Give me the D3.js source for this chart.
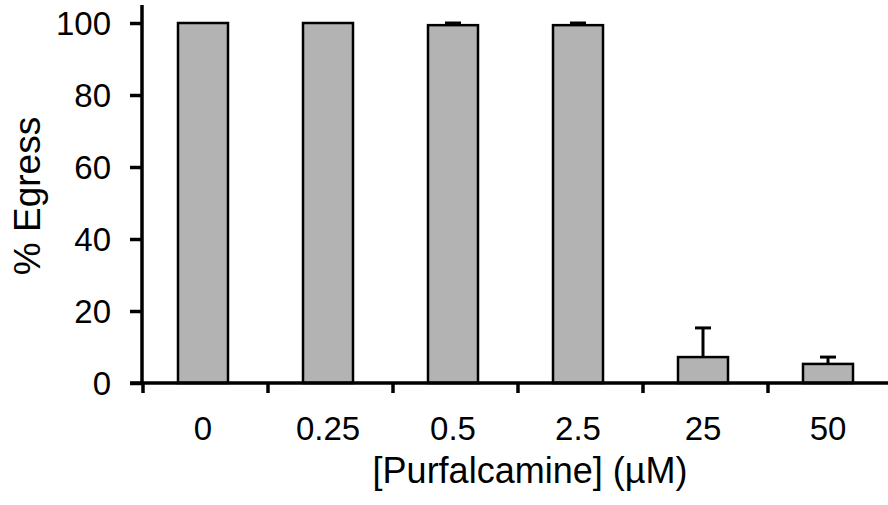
<!DOCTYPE html>
<html><head><meta charset="utf-8">
<script src="https://cdn.jsdelivr.net/npm/d3@7"></script>
<style>body{margin:0;background:#fff}svg{display:block}text{font-family:"Liberation Sans",Arial,sans-serif;fill:#000}</style>
</head><body><svg id="c" width="888" height="505"></svg>
<script>
const categories = ["0", "0.25", "0.5", "2.5", "25", "50"];
const means = [100, 100, 99.4, 99.4, 7.2, 5.3];
const errors = [0, 0, 0.6, 0.6, 8.1, 1.9];
const yTicks = [0, 20, 40, 60, 80, 100];

const svg = d3.select("#c");
const x0 = 143, step = 125;
const x = d3.scaleBand().domain(categories).range([x0 - 2.5, x0 - 2.5 + step * categories.length]).paddingInner(0.6).paddingOuter(0.3);
const y = d3.scaleLinear().domain([0, 100]).range([383, 23]);

// bars
svg.selectAll("rect.bar").data(categories).enter().append("rect")
  .attr("x", d => x(d)).attr("width", x.bandwidth())
  .attr("y", (d, i) => y(means[i])).attr("height", (d, i) => y(0) - y(means[i]))
  .attr("fill", "#b3b3b3").attr("stroke", "#000").attr("stroke-width", 2.5);

// error bars (upward only)
const eg = svg.append("g").attr("stroke", "#000").attr("stroke-width", 3);
categories.forEach((c, i) => {
  if (errors[i] <= 0) return;
  const cx = x(c) + x.bandwidth() / 2;
  eg.append("line").attr("x1", cx).attr("x2", cx).attr("y1", y(means[i])).attr("y2", y(means[i] + errors[i]));
  eg.append("line").attr("x1", cx - 8).attr("x2", cx + 8).attr("y1", y(means[i] + errors[i])).attr("y2", y(means[i] + errors[i]));
});

// y axis
const yAxis = d3.axisLeft(y).tickValues(yTicks).tickSize(12).tickPadding(19).tickFormat(d3.format("d"));
const gy = svg.append("g").attr("transform", `translate(${x0 - 1},0)`).call(yAxis);
gy.select(".domain").remove();
gy.selectAll(".tick line").attr("stroke", "#000").attr("stroke-width", 3.5);
gy.selectAll(".tick text").attr("font-size", 33).attr("font-family", "Liberation Sans, Arial, sans-serif").attr("dy", "0.36em");
svg.append("line").attr("x1", x0 - 1).attr("x2", x0 - 1).attr("y1", 5).attr("y2", y(0) + 2).attr("stroke", "#000").attr("stroke-width", 3.5);

// x axis line
svg.append("line").attr("x1", 130).attr("x2", 888).attr("y1", y(0)).attr("y2", y(0)).attr("stroke", "#000").attr("stroke-width", 3.5);
// boundary ticks
const bounds = d3.range(categories.length).map(i => x0 + step * i);
svg.selectAll("line.bt").data(bounds).enter().append("line")
  .attr("x1", d => d).attr("x2", d => d).attr("y1", y(0)).attr("y2", y(0) + 10)
  .attr("stroke", "#000").attr("stroke-width", 3.5);
// category labels
svg.selectAll("text.cl").data(categories).enter().append("text")
  .attr("x", d => x(d) + x.bandwidth() / 2).attr("y", 440)
  .attr("text-anchor", "middle").attr("font-size", 33).text(d => d);

// axis titles
svg.append("text").attr("x", 530).attr("y", 483).attr("text-anchor", "middle").attr("font-size", 36).text("[Purfalcamine] (µM)");
svg.append("text").attr("transform", "translate(40,196) rotate(-90)").attr("text-anchor", "middle").attr("font-size", 37).text("% Egress");
</script></body></html>
